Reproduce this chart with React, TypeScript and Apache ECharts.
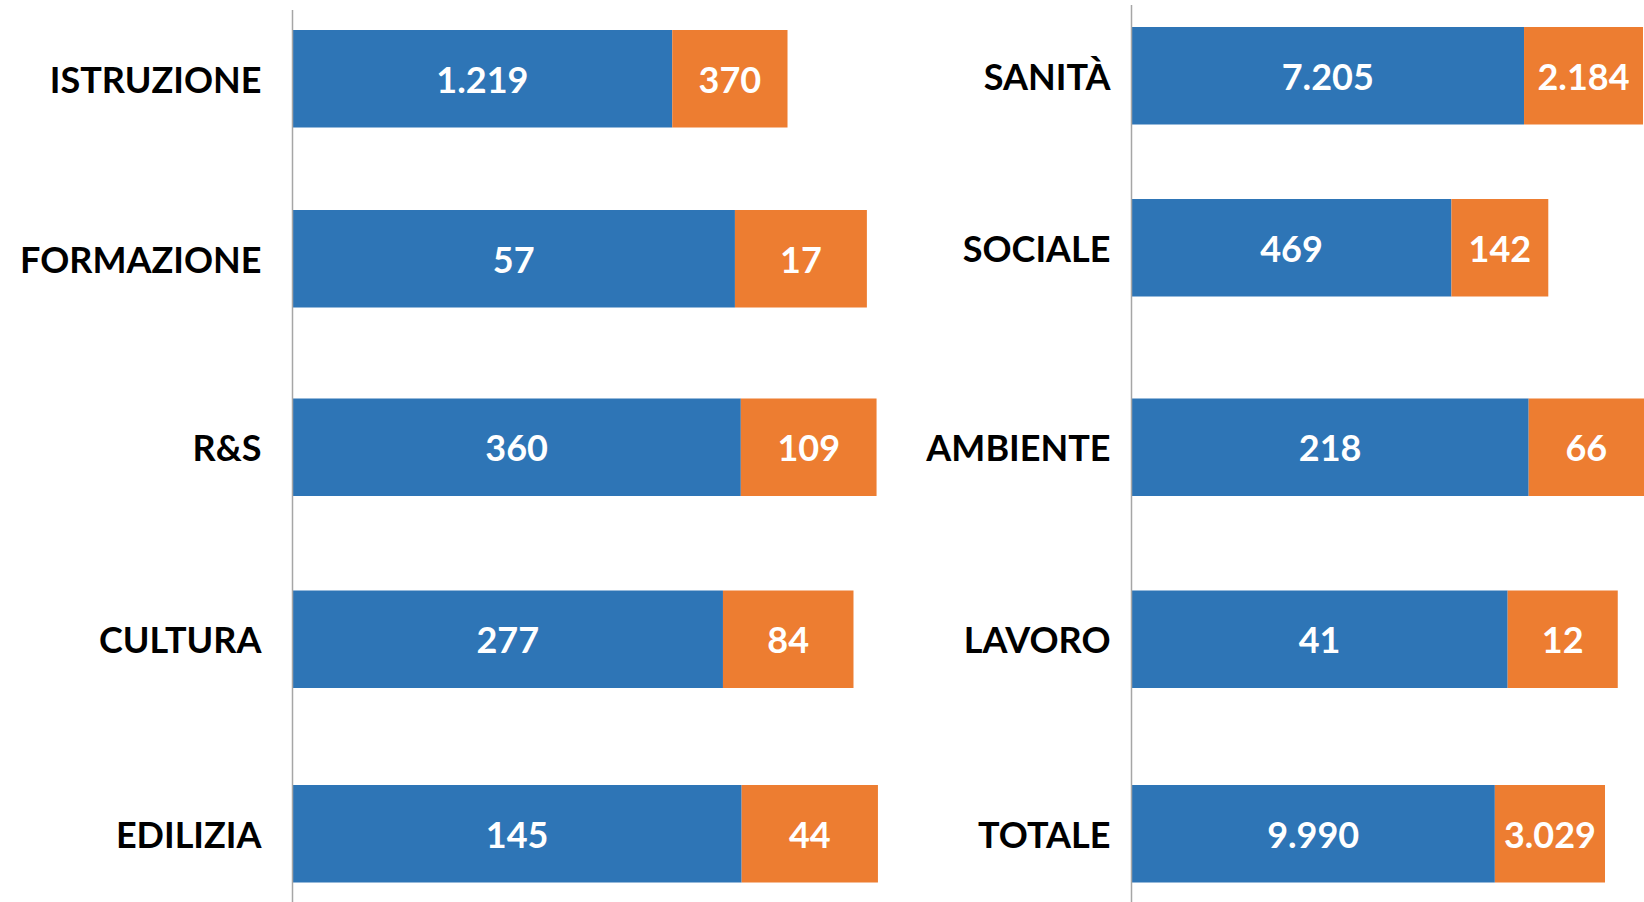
import React, { useEffect, useRef } from "react";
import * as echarts from "echarts";

// ---- data ----
const leftCategories = ["ISTRUZIONE", "FORMAZIONE", "R&S", "CULTURA", "EDILIZIA"];
const leftBlue = [1219, 57, 360, 277, 145];
const leftOrange = [370, 17, 109, 84, 44];

const rightCategories = ["SANITÀ", "SOCIALE", "AMBIENTE", "LAVORO", "TOTALE"];
const rightBlue = [7205, 469, 218, 41, 9990];
const rightOrange = [2184, 142, 66, 12, 3029];

// each row of the original has its own value scale (axis maximum)
const leftAxisMax = [1926, 77.3, 481.8, 386.1, 193.7];
const rightAxisMax = [9407, 751.3, 281.3, 55.86, 14091];

// ---- layout ----
const LEFT_X = 292.5;
const RIGHT_X = 1131.5;
const LEFT_W = 600;
const RIGHT_W = 512.5;
const BAR_H = 97.5;
const leftTops = [30, 210, 398.5, 590.5, 785];
const rightTops = [27, 199, 398.5, 590.5, 785];

const BLUE = "#2E75B6";
const ORANGE = "#ED7D31";
const FONT = "Lato";
const FONT_SIZE = 36;

const fmt = (v: number) => String(v).replace(/\B(?=(\d{3})+(?!\d))/g, ".");

function buildOption() {
  const grid: any[] = [];
  const xAxis: any[] = [];
  const yAxis: any[] = [];
  const series: any[] = [];

  const panels = [
    { cats: leftCategories, blue: leftBlue, orange: leftOrange, max: leftAxisMax, tops: leftTops, x: LEFT_X, w: LEFT_W, margin: 31 },
    { cats: rightCategories, blue: rightBlue, orange: rightOrange, max: rightAxisMax, tops: rightTops, x: RIGHT_X, w: RIGHT_W, margin: 21 },
  ];

  panels.forEach((p) => {
    p.cats.forEach((cat, i) => {
      const idx = grid.length;
      grid.push({ left: p.x, top: p.tops[i], width: p.w, height: BAR_H, containLabel: false });
      xAxis.push({ type: "value", gridIndex: idx, min: 0, max: p.max[i], show: false });
      yAxis.push({
        type: "category",
        gridIndex: idx,
        data: [cat],
        axisLine: { show: false },
        axisTick: { show: false },
        axisLabel: {
          margin: p.margin,
          color: "#000000",
          fontFamily: FONT,
          fontWeight: "bold",
          fontSize: FONT_SIZE,
        },
      });
      const label = {
        show: true,
        position: "inside",
        color: "#FFFFFF",
        fontFamily: FONT,
        fontWeight: "bold",
        fontSize: FONT_SIZE,
        formatter: (d: any) => fmt(d.value),
      };
      series.push({
        type: "bar",
        name: "blue",
        stack: "s" + idx,
        xAxisIndex: idx,
        yAxisIndex: idx,
        barWidth: "100%",
        clip: true,
        itemStyle: { color: BLUE },
        label,
        data: [p.blue[i]],
      });
      series.push({
        type: "bar",
        name: "orange",
        stack: "s" + idx,
        xAxisIndex: idx,
        yAxisIndex: idx,
        barWidth: "100%",
        clip: true,
        itemStyle: { color: ORANGE },
        label,
        data: [p.orange[i]],
      });
    });
  });

  return {
    animation: false,
    backgroundColor: "#FFFFFF",
    grid,
    xAxis,
    yAxis,
    series,
    graphic: [
      { type: "line", shape: { x1: LEFT_X, y1: 10, x2: LEFT_X, y2: 902 }, style: { stroke: "#A6A6A6", lineWidth: 1.5 }, z: 10 },
      { type: "line", shape: { x1: RIGHT_X, y1: 5, x2: RIGHT_X, y2: 902 }, style: { stroke: "#A6A6A6", lineWidth: 1.5 }, z: 10 },
    ],
  };
}

export default function App() {
  const ref = useRef<HTMLDivElement>(null);
  useEffect(() => {
    if (!ref.current) return;
    const chart = echarts.init(ref.current, undefined, { renderer: "svg" });
    chart.setOption(buildOption() as any);
    return () => chart.dispose();
  }, []);
  return (
    <div
      ref={ref}
      style={{ position: "absolute", left: 0, top: 0, width: 1644, height: 902, background: "#fff" }}
    />
  );
}
